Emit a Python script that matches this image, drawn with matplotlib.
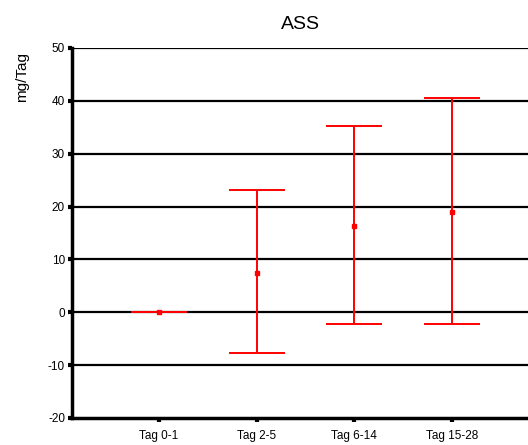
import matplotlib
matplotlib.use("Agg")
import matplotlib.pyplot as plt
import numpy as np

# data
categories = ["Tag 0-1", "Tag 2-5", "Tag 6-14", "Tag 15-28"]
means = [0.0, 7.4, 16.3, 19.0]
lower = [0.0, -7.7, -2.2, -2.2]
upper = [0.0, 23.1, 35.3, 40.5]

plt.rcParams["font.family"] = ["Liberation Sans", "DejaVu Sans"]
plt.rcParams["axes.unicode_minus"] = False

fig = plt.figure(figsize=(5.28, 4.45), dpi=100)
ax = fig.add_axes([72 / 528, 27 / 445, 1 - 72 / 528, 370 / 445])

x = np.arange(1, len(categories) + 1)
m = np.array(means)
yerr = np.vstack([m - np.array(lower), np.array(upper) - m])

for yy in range(-10, 51, 10):
    ax.axhline(yy, color="black", lw=1.6, zorder=1)

ax.errorbar(x, m, yerr=yerr, fmt="s", color="red", ms=3.5, elinewidth=1.4,
            capsize=20, capthick=1.4, zorder=3)

ax.set_xlim(0.11, 4.78)
ax.set_ylim(-20, 50)
ax.set_yticks(range(-20, 51, 10))
ax.set_xticks(x)
ax.set_xticklabels(categories, fontsize=8.5)
ax.tick_params(axis="y", labelsize=8.5, length=3, width=3, pad=2)
ax.tick_params(axis="x", length=3, width=3, pad=6)

for side in ["top", "right"]:
    ax.spines[side].set_visible(False)
ax.spines["left"].set_linewidth(2.5)
ax.spines["bottom"].set_linewidth(2.5)

ax.set_title("ASS", fontsize=14, pad=14)
fig.text(22 / 528, 1 - 77 / 445, "mg/Tag", rotation=90, fontsize=11,
         ha="center", va="center")

fig.savefig("out.png", dpi=100)
